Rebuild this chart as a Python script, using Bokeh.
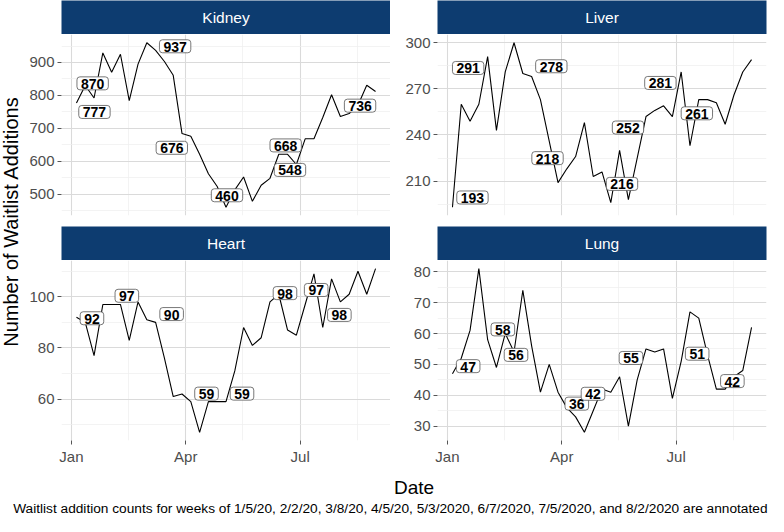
import numpy as np
from bokeh.plotting import figure
from bokeh.models import Range1d, FixedTicker, DatetimeTickFormatter, Label
from bokeh.layouts import row, column
from bokeh.embed import file_html
from bokeh.resources import INLINE
from bokeh.core.properties import value

# ---------------- data ----------------
week_dates = ["2020-01-05", "2020-01-12", "2020-01-19", "2020-01-26", "2020-02-02",
              "2020-02-09", "2020-02-16", "2020-02-23", "2020-03-01", "2020-03-08",
              "2020-03-15", "2020-03-22", "2020-03-29", "2020-04-05", "2020-04-12",
              "2020-04-19", "2020-04-26", "2020-05-03", "2020-05-10", "2020-05-17",
              "2020-05-24", "2020-05-31", "2020-06-07", "2020-06-14", "2020-06-21",
              "2020-06-28", "2020-07-05", "2020-07-12", "2020-07-19", "2020-07-26",
              "2020-08-02", "2020-08-09", "2020-08-16", "2020-08-23", "2020-08-30"]

kidney = [777, 830, 792, 929, 870, 925, 784, 895, 960, 937,
          903, 861, 684, 676, 621, 562, 523, 460, 513, 552,
          478, 527, 548, 621, 621, 590, 668, 668, 733, 802,
          736, 745, 770, 831, 812]
liver = [193, 260, 249, 260, 291, 243, 281, 300, 280, 278,
         263, 236, 209, 218, 226, 248, 213, 216, 196, 230,
         198, 225, 252, 256, 259, 252, 281, 233, 263, 263,
         261, 247, 266, 281, 289]
heart = [92, 90, 77, 97, 97, 97, 83, 98, 91, 90,
         76, 61, 62, 59, 47, 59, 59, 59, 71, 88,
         81, 84, 98, 101, 87, 85, 97, 109, 88, 107,
         98, 101, 110, 101, 111]
lung = [47, 52, 61, 81, 58, 49, 60, 54, 74, 56,
        41, 50, 41, 36, 33, 28, 35, 42, 41, 46,
        30, 45, 55, 54, 55, 39, 51, 67, 65, 53,
        42, 42, 46, 48, 62]

organs = ["Kidney", "Liver", "Heart", "Lung"]
series = {"Kidney": kidney, "Liver": liver, "Heart": heart, "Lung": lung}

annotated_weeks = ["2020-01-05", "2020-02-02", "2020-03-08", "2020-04-05",
                   "2020-05-03", "2020-06-07", "2020-07-05", "2020-08-02"]

x_major_dates = ["2020-01-01", "2020-04-01", "2020-07-01"]
x_minor_dates = ["2020-02-15T12:00", "2020-05-16T12:00", "2020-08-16"]

y_major = {"Kidney": [500, 600, 700, 800, 900],
           "Liver": [210, 240, 270, 300],
           "Heart": [60, 80, 100],
           "Lung": [30, 40, 50, 60, 70, 80]}
y_minor = {"Kidney": [450, 550, 650, 750, 850, 950],
           "Liver": [195, 225, 255, 285],
           "Heart": [50, 70, 90, 110],
           "Lung": [35, 45, 55, 65, 75]}

y_title = "Number of Waitlist Additions"
x_title = "Date"
caption = ("Waitlist addition counts for weeks of 1/5/20, 2/2/20, 3/8/20, 4/5/20, "
           "5/3/2020, 6/7/2020, 7/5/2020, and 8/2/2020 are annotated")

# label offsets (pixels, dx right, dy down) mimicking ggrepel placement
label_offsets = {
    "Kidney": [(18, 9), (-19, 11), (19.5, -4), (-19, 11.6), (1, -12), (20, -8.4), (-19.5, 6.6), (19.7, -10.8)],
    "Liver": [(20, -9.8), (-19.5, 11.4), (19.7, -10.3), (-19.3, -10.7), (20, 12), (-18, 11), (-20.8, 11), (-19.5, 10.6)],
    "Heart": [(15.5, 1), (15.2, -8.7), (16, -8.3), (15.7, -8), (16, -8), (15, -8.8), (11, -14.5), (-1, 13)],
    "Lung": [(15.7, -7.5), (15.2, -10.3), (-15.6, 9), (10, -4), (-9, 4.7), (-15, 9), (16, -7.6), (16, -8)],
}

# ---------------- styling ----------------
FONT = "Liberation Sans"
NAVY = "#0d3c70"


def to_ms(dates):
    return np.array(dates, dtype="datetime64[ms]").astype("int64").astype(float)


xs = to_ms(week_dates)
x_span = xs.max() - xs.min()
x_lo, x_hi = xs.min() - 0.05 * x_span, xs.max() + 0.05 * x_span
xticker = FixedTicker(ticks=list(to_ms(x_major_dates)), minor_ticks=list(to_ms(x_minor_dates)))

LEFT_W, RIGHT_W = 368, 378
LEFT_B, RIGHT_B = 39, 47
RIGHT_PAD = 2


def make_strip(name, width, bl, br):
    s = figure(width=width, height=34, x_range=Range1d(0, 1), y_range=Range1d(0, 1),
               toolbar_location=None, output_backend="svg",
               x_axis_location=None, y_axis_location=None,
               min_border_left=bl, min_border_right=br, min_border_top=0, min_border_bottom=0,
               background_fill_color=NAVY, border_fill_color="white", outline_line_color=None)
    s.grid.visible = False
    s.text(x=[0.5], y=[0.5], text=[name], text_align="center", text_baseline="middle",
           text_color="white", text_font=value(FONT), text_font_size="15.5px")
    return s


def make_panel(name, width, bl, br, bottom_row):
    vals = np.array(series[name], dtype=float)
    span = vals.max() - vals.min()
    p = figure(width=width, height=207 if bottom_row else 192,
               x_axis_type="datetime",
               x_range=Range1d(x_lo, x_hi),
               y_range=Range1d(vals.min() - 0.05 * span, vals.max() + 0.05 * span),
               toolbar_location=None, output_backend="svg",
               x_axis_location="below" if bottom_row else None,
               min_border_left=bl, min_border_right=br, min_border_top=0,
               min_border_bottom=26 if bottom_row else 11,
               background_fill_color="white", border_fill_color="white",
               outline_line_color=None)
    yticker = FixedTicker(ticks=y_major[name], minor_ticks=y_minor[name])
    p.yaxis.ticker = yticker
    p.ygrid.ticker = yticker
    p.xgrid.ticker = xticker
    if bottom_row:
        p.xaxis.ticker = xticker
        p.xaxis.formatter = DatetimeTickFormatter(days="%b", months="%b", years="%b")
    for g in (p.xgrid, p.ygrid):
        g.grid_line_color = "#DADADA"
        g.grid_line_width = 1.1
        g.minor_grid_line_color = "#EEEEEE"
        g.minor_grid_line_width = 0.7
    for ax in p.axis:
        ax.axis_line_color = None
        ax.major_tick_line_color = "#555555"
        ax.major_tick_line_width = 1
        ax.major_tick_out = 4
        ax.major_tick_in = 0
        ax.minor_tick_line_color = None
        ax.major_label_text_color = "#4D4D4D"
        ax.major_label_text_font = FONT
        ax.major_label_text_font_size = "15px"
        ax.major_label_standoff = 3

    p.line(xs, vals, line_color="black", line_width=1.1)

    for (d, (dx, dy)) in zip(annotated_weeks, label_offsets[name]):
        i = week_dates.index(d)
        p.add_layout(Label(x=xs[i], y=vals[i], x_offset=dx, y_offset=-dy,
                           text=str(series[name][i]), text_align="center",
                           text_baseline="middle", text_font=FONT, text_font_size="14px",
                           text_font_style="bold", text_color="black",
                           background_fill_color="white",
                           border_line_color="#555555", border_line_width=0.8,
                           padding=dict(left=4, right=4, top=2, bottom=1),
                           border_radius=3))
    return p


k_strip = make_strip("Kidney", LEFT_W, LEFT_B, 0)
l_strip = make_strip("Liver", RIGHT_W, RIGHT_B, RIGHT_PAD)
h_strip = make_strip("Heart", LEFT_W, LEFT_B, 0)
g_strip = make_strip("Lung", RIGHT_W, RIGHT_B, RIGHT_PAD)

k_plot = make_panel("Kidney", LEFT_W, LEFT_B, 0, False)
l_plot = make_panel("Liver", RIGHT_W, RIGHT_B, RIGHT_PAD, False)
h_plot = make_panel("Heart", LEFT_W, LEFT_B, 0, True)
g_plot = make_panel("Lung", RIGHT_W, RIGHT_B, RIGHT_PAD, True)

TOP_H = 34 + 192 + 34 + 207

ylab = figure(width=22, height=TOP_H, x_range=Range1d(0, 22), y_range=Range1d(0, TOP_H),
              toolbar_location=None, output_backend="svg",
              x_axis_location=None, y_axis_location=None,
              min_border_left=0, min_border_right=0, min_border_top=0, min_border_bottom=0,
              background_fill_color="white", border_fill_color="white", outline_line_color=None)
ylab.grid.visible = False
ylab.text(x=[10.5], y=[TOP_H - 221], text=[y_title], angle=np.pi / 2,
          text_align="center", text_baseline="middle", text_color="black",
          text_font=value(FONT), text_font_size="20px")

BOT_H = 49
bottom = figure(width=768, height=BOT_H, x_range=Range1d(0, 768), y_range=Range1d(0, BOT_H),
                toolbar_location=None, output_backend="svg",
                x_axis_location=None, y_axis_location=None,
                min_border_left=0, min_border_right=0, min_border_top=0, min_border_bottom=0,
                background_fill_color="white", border_fill_color="white", outline_line_color=None)
bottom.grid.visible = False
bottom.text(x=[413.5], y=[BOT_H - 20], text=[x_title], text_align="center", text_baseline="middle",
            text_color="black", text_font=value(FONT), text_font_size="19px")
bottom.text(x=[767], y=[BOT_H - 41], text=[caption], text_align="right", text_baseline="middle",
            text_color="black", text_font=value(FONT), text_font_size="13.7px")

left_col = column(k_strip, k_plot, h_strip, h_plot)
right_col = column(l_strip, l_plot, g_strip, g_plot)
layout = column(row(ylab, left_col, right_col), bottom)

open("out.html", "w").write(file_html(layout, INLINE))
